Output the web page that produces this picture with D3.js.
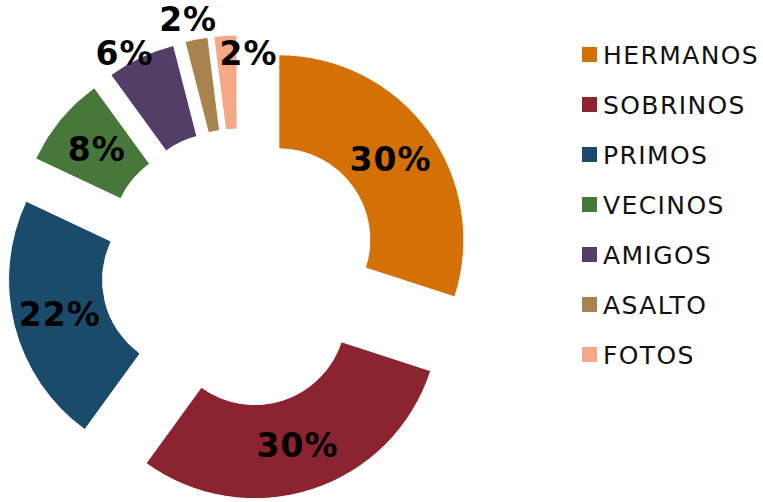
<!DOCTYPE html>
<html>
<head>
<meta charset="utf-8">
<script src="https://cdn.jsdelivr.net/npm/d3@7"></script>
<style>
  body { margin: 0; background: #fff; }
  text { font-family: "DejaVu Sans", Verdana, sans-serif; }
</style>
</head>
<body>
<div id="chart"></div>
<script>
const categories = ["HERMANOS", "SOBRINOS", "PRIMOS", "VECINOS", "AMIGOS", "ASALTO", "FOTOS"];
const values = [30, 30, 22, 8, 6, 2, 2];
const colors = ["#d47106", "#8b2331", "#1a4b6b", "#47773a", "#533e68", "#a8834f", "#f4a888"];

// labels that sit outside their slice: [angle in degrees, distance from slice centre]
const outsideLabels = { AMIGOS: [331, 196], ASALTO: [348, 206], FOTOS: [4, 167] };

const width = 763, height = 502;
const cx = 240, cy = 268;
const outerR = 185, innerR = 91, explode = 48;

const svg = d3
  .select("#chart")
  .append("svg")
  .attr("width", width)
  .attr("height", height);

const pie = d3.pie().sort(null).value((d) => d.value);
const arcs = pie(categories.map((c, i) => ({ name: c, value: values[i], color: colors[i] })));

const arc = d3.arc().innerRadius(innerR).outerRadius(outerR);

const g = svg.append("g").attr("transform", `translate(${cx}, ${cy})`);

const slices = g
  .selectAll("g.slice")
  .data(arcs)
  .join("g")
  .attr("class", "slice")
  .attr("transform", (d) => {
    const mid = (d.startAngle + d.endAngle) / 2;
    return `translate(${explode * Math.sin(mid)}, ${-explode * Math.cos(mid)})`;
  });

slices
  .append("path")
  .attr("d", arc)
  .attr("fill", (d) => d.data.color)
  .attr("stroke", "#fff")
  .attr("stroke-width", 1);

slices
  .append("text")
  .attr("transform", (d) => {
    const o = outsideLabels[d.data.name];
    if (o) {
      const a = (o[0] * Math.PI) / 180;
      return `translate(${o[1] * Math.sin(a)}, ${-o[1] * Math.cos(a)})`;
    }
    return `translate(${arc.centroid(d)})`;
  })
  .attr("text-anchor", "middle")
  .attr("dy", "0.36em")
  .attr("font-size", "33px")
  .attr("font-weight", "bold")
  .attr("letter-spacing", "1px")
  .attr("fill", "#000")
  .text((d) => d.data.value + "%");

// legend
const legend = svg
  .append("g")
  .selectAll("g")
  .data(categories)
  .join("g")
  .attr("transform", (d, i) => `translate(582, ${55 + i * 50})`);

legend
  .append("rect")
  .attr("x", 0)
  .attr("y", -8)
  .attr("width", 15)
  .attr("height", 15)
  .attr("fill", (d, i) => colors[i]);

legend
  .append("text")
  .attr("x", 21)
  .attr("dy", "0.36em")
  .attr("font-size", "25px")
  .attr("letter-spacing", "1.4px")
  .attr("fill", "#111")
  .text((d) => d);
</script>
</body>
</html>
